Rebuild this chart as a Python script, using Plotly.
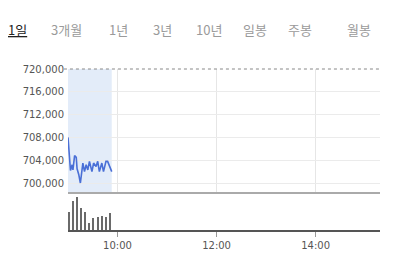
import plotly.graph_objects as go

# ---- data ----
tabs = ["1일", "3개월", "1년", "3년", "10년", "일봉", "주봉", "월봉"]
day = "2024-01-02 "
price_times = ["09:00", "09:01", "09:02", "09:03", "09:05", "09:06", "09:08", "09:10",
               "09:11", "09:13", "09:15", "09:17", "09:18", "09:20", "09:22", "09:24",
               "09:26", "09:29", "09:31", "09:34", "09:36", "09:38", "09:41", "09:43",
               "09:46", "09:48", "09:51", "09:53"]
prices = [708000, 706500, 704500, 702200, 703200, 702300, 704800, 704500,
          702500, 701500, 700000, 702500, 703500, 702000, 703200, 702300,
          703800, 702000, 703500, 702900, 703800, 702000, 703500, 702000,
          703800, 703800, 702600, 702000]
vol_times = ["09:01", "09:06", "09:11", "09:16", "09:21", "09:26", "09:31", "09:36",
             "09:41", "09:46", "09:51"]
volumes = [18, 29, 33, 22, 18, 7, 12, 13, 14, 13, 17]
y_ticks = [700000, 704000, 708000, 712000, 716000, 720000]
x_ticks = ["10:00", "12:00", "14:00"]

px_times = [day + t for t in price_times]
bx_times = [day + t for t in vol_times]

fig = go.Figure()

fig.add_trace(go.Scatter(
    x=px_times, y=prices, mode="lines",
    line=dict(color="#4a6fd6", width=1.6),
    xaxis="x", yaxis="y", hoverinfo="skip", showlegend=False))

fig.add_trace(go.Bar(
    x=bx_times, y=volumes, width=100000,
    marker=dict(color="#6a6a6a", line=dict(width=0)),
    xaxis="x2", yaxis="y2", hoverinfo="skip", showlegend=False))

xr = [day + "09:00", day + "15:18"]
tick_font = dict(family="DejaVu Sans", size=10, color="#555555")

fig.update_layout(
    width=398, height=270,
    margin=dict(l=68, r=18, t=69, b=40),
    paper_bgcolor="white", plot_bgcolor="white",
    bargap=0,
    xaxis=dict(
        range=xr, anchor="y", type="date",
        tickvals=[day + t for t in x_ticks], showticklabels=False,
        showgrid=True, gridcolor="#e6e6e6", gridwidth=1,
        showline=True, linecolor="#aaaaaa", linewidth=2,
        zeroline=False, ticks="", fixedrange=True),
    yaxis=dict(
        domain=[0.236, 1], range=[698420, 720000], anchor="x",
        tickvals=y_ticks, ticktext=[f"{v:,}" for v in y_ticks],
        tickfont=tick_font, ticks="", ticklabelstandoff=3,
        showgrid=True, gridcolor="#ebebeb", gridwidth=1,
        zeroline=False, showline=False),
    xaxis2=dict(
        range=xr, anchor="y2", type="date", matches="x",
        tickvals=[day + t for t in x_ticks], ticktext=x_ticks,
        tickfont=tick_font, ticks="outside", ticklen=5, tickcolor="#999999",
        showgrid=False, showline=True, linecolor="#555555", linewidth=2,
        zeroline=False),
    yaxis2=dict(
        domain=[0, 0.2298], range=[0, 37], anchor="x2",
        showticklabels=False, showgrid=False, zeroline=False, ticks=""),
)

# shaded trading-so-far area (from first to last price time)
fig.add_shape(type="rect", xref="x", yref="y domain",
              x0=px_times[0], x1=px_times[-1], y0=0, y1=1,
              fillcolor="#e3ecf9", line=dict(width=0), layer="below")

# dotted top line
fig.add_shape(type="line", xref="paper", yref="y domain",
              x0=-0.013, x1=1, y0=1, y1=1,
              line=dict(color="#888888", width=1, dash="dot"))

# tabs
tab_left = [6, 49, 107, 151, 194, 241, 286, 345]
for i, (label, lx) in enumerate(zip(tabs, tab_left)):
    text = f"<u>{label}</u>" if i == 0 else label
    fig.add_annotation(
        text=text, xref="paper", yref="paper",
        x=(lx - 68) / 312, y=1 + (69 - 30) / 161,
        xanchor="left", yanchor="middle", showarrow=False,
        font=dict(family="Noto Sans CJK KR", size=13,
                  color="#222222" if i == 0 else "#9a9a9a"))

fig.write_html("out.html")
